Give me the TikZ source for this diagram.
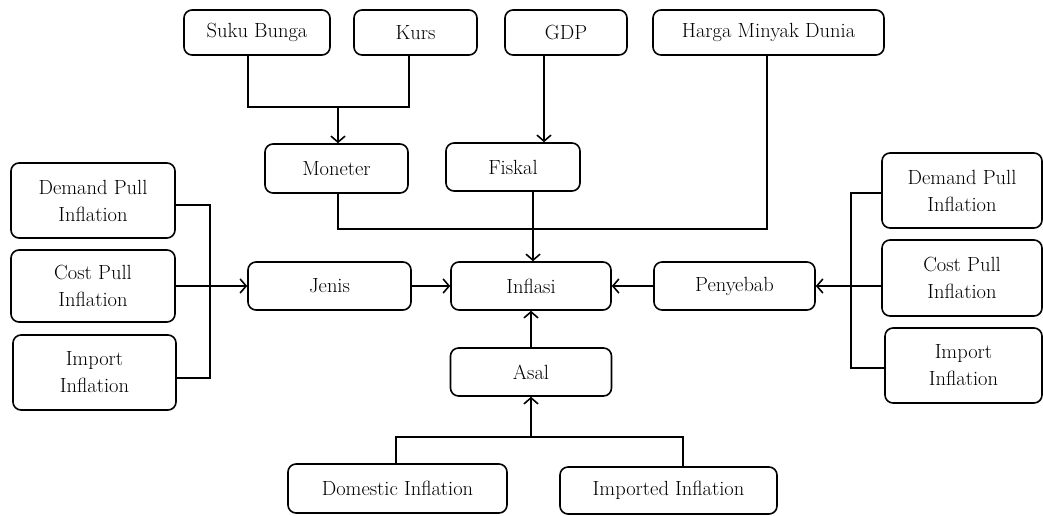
\documentclass[tikz,border=0pt]{standalone}
\usetikzlibrary{arrows.meta}

\begin{document}
\begin{tikzpicture}[x=1pt, y=-1pt,
    box/.style={draw, line width=1.6pt, rounded corners=8pt, align=center, inner sep=0pt, font=\fontsize{20.5}{27}\selectfont},
    link/.style={line width=1.6pt},
    arr/.style={link, -{Straight Barb[length=6pt, width=14pt]}}]
\useasboundingbox (0,0) rectangle (1043,515);
% sumber
\node[box, minimum width=146pt, minimum height=45pt] (suku) at (257,32.5) {Suku Bunga};
\node[box, minimum width=123pt, minimum height=45pt] (kurs) at (415.5,32.5) {Kurs};
\node[box, minimum width=122pt, minimum height=45pt] (gdp) at (566,32.5) {GDP};
\node[box, minimum width=231pt, minimum height=45pt] (minyak) at (768.5,32.5) {Harga Minyak Dunia};
\node[box, minimum width=143pt, minimum height=49pt] (moneter) at (336.5,168.5) {Moneter};
\node[box, minimum width=134pt, minimum height=48pt] (fiskal) at (513,167) {Fiskal};
% tengah
\node[box, minimum width=163pt, minimum height=48pt] (jenis) at (329.5,286) {Jenis};
\node[box, minimum width=160pt, minimum height=48pt] (inflasi) at (531,286) {Inflasi};
\node[box, minimum width=161pt, minimum height=48pt] (penyebab) at (734.5,286) {Penyebab};
\node[box, minimum width=161pt, minimum height=48pt] (asal) at (531,372) {Asal};
% kiri
\node[box, minimum width=164pt, minimum height=75pt] (demandL) at (93,200.5) {Demand Pull\\Inflation};
\node[box, minimum width=164pt, minimum height=72pt] (costL) at (93,286) {Cost Pull\\Inflation};
\node[box, minimum width=163pt, minimum height=75pt] (importL) at (94.5,372.5) {Import\\Inflation};
% kanan
\node[box, minimum width=160pt, minimum height=75pt] (demandR) at (962,190.5) {Demand Pull\\Inflation};
\node[box, minimum width=160pt, minimum height=76pt] (costR) at (962,278) {Cost Pull\\Inflation};
\node[box, minimum width=157pt, minimum height=75pt] (importR) at (963.5,365.5) {Import\\Inflation};
% bawah
\node[box, minimum width=219pt, minimum height=49pt] (domestik) at (397.5,488.5) {Domestic Inflation};
\node[box, minimum width=217pt, minimum height=47pt] (impor) at (668.5,490.5) {Imported Inflation};

\coordinate (jointop) at (338,107);
\coordinate (joinmid) at (533,229);
\coordinate (busL) at (210,286);
\coordinate (busR) at (851,286);
\coordinate (busB) at (531,437);

\draw[link] ([xshift=-9pt]suku.south) |- (jointop) -| ([xshift=-6.5pt]kurs.south);
\draw[arr] (jointop) -- (jointop |- moneter.north);
\draw[arr] ([xshift=-22pt]gdp.south) -- ([xshift=-22pt]gdp.south |- fiskal.north);
\draw[link] ([xshift=1.5pt]moneter.south) |- (joinmid) -| ([xshift=-1.5pt]minyak.south);
\draw[arr] ([xshift=20pt]fiskal.south) -- ([xshift=20pt]fiskal.south |- inflasi.north);

\draw[link] ([yshift=-4.5pt]demandL.east) -| (busL);
\draw[link] ([yshift=-5.5pt]importL.east) -| (busL);
\draw[arr] (costL.east) -- (jenis.west);
\draw[arr] (jenis) -- (inflasi);
\draw[arr] (penyebab) -- (inflasi);

\draw[link] ([yshift=-2.5pt]demandR.west) -| (busR);
\draw[link] ([yshift=-2.5pt]importR.west) -| (busR);
\draw[arr] (costR.west |- penyebab.east) -- (penyebab.east);

\draw[arr] (asal) -- (inflasi);
\draw[link] ([xshift=-1.5pt]domestik.north) |- (busB) -| ([xshift=14.5pt]impor.north);
\draw[arr] (busB) -- (asal.south);
\end{tikzpicture}
\end{document}
